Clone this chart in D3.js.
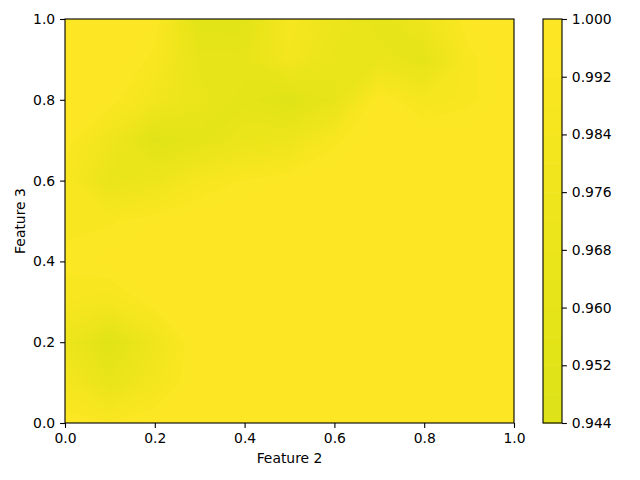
<!DOCTYPE html>
<html>
<head>
<meta charset="utf-8">
<script src="https://cdn.jsdelivr.net/npm/d3@7"></script>
<style>
body { margin: 0; background: #fff; }
text { font-family: "DejaVu Sans", sans-serif; }
</style>
</head>
<body>
<div id="container"></div>
<script>
// grid of values, 0.1 spacing on both features, rows listed top (Feature 3 = 1.0) to bottom (0.0)
const gridStep = 0.1
const row10 = [1.000, 1.000, 0.997, 0.953, 0.952, 0.988, 0.972, 0.960, 0.975, 0.997, 1.000]
const row09 = [1.000, 1.000, 0.990, 0.962, 0.962, 0.982, 0.966, 0.968, 0.958, 0.990, 1.000]
const row08 = [1.000, 0.996, 0.980, 0.966, 0.958, 0.948, 0.962, 0.998, 0.984, 0.990, 1.000]
const row07 = [0.996, 0.976, 0.950, 0.958, 0.968, 0.972, 0.990, 1.000, 1.000, 1.000, 1.000]
const row06 = [0.990, 0.966, 0.972, 0.986, 0.993, 0.997, 1.000, 1.000, 1.000, 1.000, 1.000]
const row05 = [0.990, 0.991, 0.996, 1.000, 1.000, 1.000, 1.000, 1.000, 1.000, 1.000, 1.000]
const row04 = [0.994, 0.998, 1.000, 1.000, 1.000, 1.000, 1.000, 1.000, 1.000, 1.000, 1.000]
const row03 = [0.988, 0.984, 0.996, 1.000, 1.000, 1.000, 1.000, 1.000, 1.000, 1.000, 1.000]
const row02 = [0.972, 0.950, 0.975, 1.000, 1.000, 1.000, 1.000, 1.000, 1.000, 1.000, 1.000]
const row01 = [0.985, 0.964, 0.982, 1.000, 1.000, 1.000, 1.000, 1.000, 1.000, 1.000, 1.000]
const row00 = [0.995, 0.993, 0.998, 1.000, 1.000, 1.000, 1.000, 1.000, 1.000, 1.000, 1.000]

const levels = [0.944, 0.948, 0.952, 0.956, 0.960, 0.964, 0.968, 0.972, 0.976, 0.980, 0.984, 0.988, 0.992, 0.996, 1.000]
const axisTicks = [0.0, 0.2, 0.4, 0.6, 0.8, 1.0]
const barTicks = [0.944, 0.952, 0.960, 0.968, 0.976, 0.984, 0.992, 1.000]

const width = 640
const height = 480
const margin = {top: 19, bottom: 57, left: 65, right: 126}
const bar = {left: 543, width: 19}
const tick = 4.9
const fontSize = "13.9px"

const rows = [row00, row01, row02, row03, row04, row05, row06, row07, row08, row09, row10]
const nx = row00.length
const ny = rows.length
const values = rows.flat()

// band colour = viridis at band midpoint, colour range 0..1
const bandColor = i => d3.interpolateViridis((levels[i] + levels[i + 1]) / 2)

const svg = d3.create("svg")
    .attr("width", width)
    .attr("height", height)

const x = d3.scaleLinear()
    .domain([0, 1])
    .range([margin.left, width - margin.right])

const y = d3.scaleLinear()
    .domain([0, 1])
    .range([height - margin.bottom, margin.top])

svg.append("clipPath")
    .attr("id", "plot-clip")
    .append("rect")
    .attr("x", x(0))
    .attr("y", y(1))
    .attr("width", x(1) - x(0))
    .attr("height", y(0) - y(1))

const contours = d3.contours()
    .size([nx, ny])
    .thresholds(levels.slice(0, -1))(values)

// contour coordinates: sample i sits at i + 0.5
const toPlot = d3.geoTransform({
    point: function(px, py) {
        this.stream.point(x((px - 0.5) * gridStep), y((py - 0.5) * gridStep))
    }
})
const path = d3.geoPath(toPlot)

svg.append("g")
    .attr("clip-path", "url(#plot-clip)")
    .selectAll("path")
    .data(contours)
    .enter().append("path")
    .attr("d", path)
    .attr("fill", (d, i) => bandColor(i))
    .attr("stroke", (d, i) => bandColor(i))
    .attr("stroke-width", 0.5)

const xAxis = svg.append("g")
    .attr("transform", `translate(0, ${y(0)})`)
    .call(d3.axisBottom(x).tickValues(axisTicks).tickFormat(d3.format(".1f")).tickSize(tick).tickPadding(4.9))

const yAxis = svg.append("g")
    .attr("transform", `translate(${x(0)}, 0)`)
    .call(d3.axisLeft(y).tickValues(axisTicks).tickFormat(d3.format(".1f")).tickSize(tick).tickPadding(4.9))

svg.append("rect")
    .attr("x", x(0))
    .attr("y", y(1))
    .attr("width", x(1) - x(0))
    .attr("height", y(0) - y(1))
    .attr("fill", "none")
    .attr("stroke", "#000")
    .attr("stroke-width", 1.1)

svg.append("text")
    .attr("x", (x(0) + x(1)) / 2)
    .attr("y", 463)
    .attr("text-anchor", "middle")
    .style("font-size", fontSize)
    .text("Feature 2")

svg.append("text")
    .attr("transform", `translate(25, ${(y(0) + y(1)) / 2}) rotate(-90)`)
    .attr("text-anchor", "middle")
    .style("font-size", fontSize)
    .text("Feature 3")

// colour bar
const c = d3.scaleLinear()
    .domain([levels[0], levels[levels.length - 1]])
    .range([height - margin.bottom, margin.top])

const colorBar = svg.append("g")

colorBar.selectAll("rect")
    .data(d3.range(levels.length - 1))
    .enter().append("rect")
    .attr("x", bar.left)
    .attr("y", i => c(levels[i + 1]))
    .attr("width", bar.width)
    .attr("height", i => c(levels[i]) - c(levels[i + 1]) + 0.5)
    .attr("fill", i => bandColor(i))

colorBar.append("rect")
    .attr("x", bar.left)
    .attr("y", c(1))
    .attr("width", bar.width)
    .attr("height", c(levels[0]) - c(1))
    .attr("fill", "none")
    .attr("stroke", "#000")
    .attr("stroke-width", 1.1)

const barAxis = svg.append("g")
    .attr("transform", `translate(${bar.left + bar.width}, 0)`)
    .call(d3.axisRight(c).tickValues(barTicks).tickFormat(d3.format(".3f")).tickSize(tick).tickPadding(4.9))

for (const g of [xAxis, yAxis, barAxis]) {
    g.select(".domain").remove()
    g.selectAll("line").attr("stroke", "#000").attr("stroke-width", 1.1)
    g.selectAll("text").attr("fill", "#000").style("font-size", fontSize).style("font-family", "DejaVu Sans")
}

document.querySelector("#container").appendChild(svg.node())
</script>
</body>
</html>
